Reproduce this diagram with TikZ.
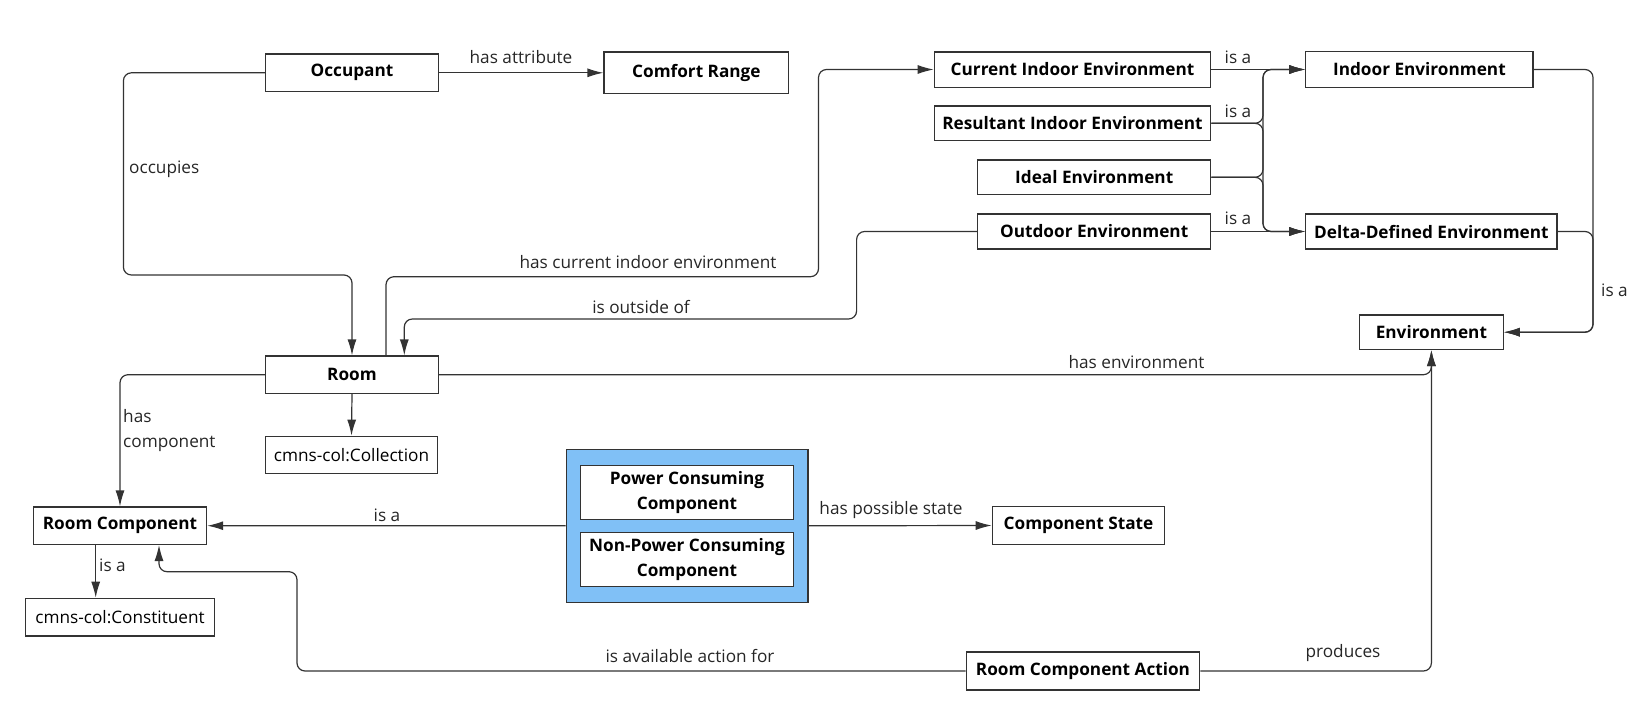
\documentclass[tikz,border=0pt]{standalone}
\usepackage{fontspec}
\setmainfont{Open Sans}
\usetikzlibrary{arrows.meta}
\definecolor{lc}{HTML}{333333}
\definecolor{bc}{HTML}{333333}
\definecolor{blu}{HTML}{80C0F6}
\tikzset{
  box/.style={draw=bc, line width=1.3pt, fill=white, inner sep=0pt, font=\fontsize{17.2}{25}\selectfont\bfseries, align=center},
  plainbox/.style={box, font=\fontsize{17.2}{25}\selectfont},
  conn/.style={draw=lc, line width=1.2pt, rounded corners=8pt, -{Latex[length=16pt,width=9pt]}},
  lbl/.style={font=\fontsize{17.2}{25}\selectfont, text=black!85, inner sep=0pt},
}
\begin{document}
\begin{tikzpicture}[x=1pt,y=-1pt]
\useasboundingbox (0,0) rectangle (1639,724);
% nodes
\node[box, minimum width=172.6pt, minimum height=37.7pt] (occ) at (352,72.8) {Occupant};
\node[box, minimum width=184.7pt, minimum height=41.7pt] (comfort) at (696.4,72.8) {Comfort Range};
\node[box, minimum width=276.3pt, minimum height=35.3pt] (cur) at (1072.5,69.5) {Current Indoor Environment};
\node[box, minimum width=227.2pt, minimum height=36pt] (indoor) at (1419.4,69.5) {Indoor Environment};
\node[box, minimum width=276.3pt, minimum height=34.7pt] (res) at (1072.5,123.3) {Resultant Indoor Environment};
\node[box, minimum width=233pt, minimum height=34.7pt] (ideal) at (1094.2,177.3) {Ideal Environment};
\node[box, minimum width=233pt, minimum height=35pt] (outdoor) at (1094.2,231.5) {Outdoor Environment};
\node[box, minimum width=251.2pt, minimum height=35pt] (delta) at (1431.4,231.5) {Delta-Defined Environment};
\node[box, minimum width=143.6pt, minimum height=34.3pt] (env) at (1431.4,332.2) {Environment};
\node[box, minimum width=172.6pt, minimum height=37.3pt] (room) at (352,374.7) {Room};
\node[plainbox, minimum width=171.5pt, minimum height=37.4pt] (coll) at (351.5,455) {cmns-col:Collection};
\node[box, minimum width=173.1pt, minimum height=37.3pt] (rc) at (120,525.7) {Room Component};
\node[plainbox, minimum width=188.8pt, minimum height=37.7pt] (const) at (120,617.2) {cmns-col:Constituent};
\node[draw=bc, line width=1.6pt, fill=blu, minimum width=241.6pt, minimum height=153pt, inner sep=0pt] (blue) at (687.2,525.8) {};
\node[box, minimum width=212.9pt, minimum height=53.6pt] (pcc) at (687,492.5) {Power Consuming\\Component};
\node[box, minimum width=212.9pt, minimum height=54pt] (npcc) at (687,559.3) {Non-Power Consuming\\Component};
\node[box, minimum width=172.3pt, minimum height=37.6pt] (cs) at (1078.5,525.5) {Component State};
\node[box, minimum width=233.4pt, minimum height=38pt] (rca) at (1083,671) {Room Component Action};

% connectors
\draw[conn] (occ.west) -- (123.4,72.8) -- (123.4,275) -- (352,275) -- (room.north);
\node[lbl, anchor=west] (loccupies) at (129,169) {occupies};

\draw[conn] (occ.east) -- (comfort.west);
\node[lbl] (lattr) at (521,57) {has attribute};

\draw[conn] ([xshift=34pt]room.north) -- (386,276.7) -- (818.5,276.7) -- (818.5,69.5) -- (cur.west);
\node[lbl] (lcur) at (648,262) {has current indoor environment};

\draw[conn] (outdoor.west) -- (856.6,231.5) -- (856.6,319) -- (404.3,319) -- ([xshift=52.3pt]room.north);
\node[lbl] (lout) at (641,307) {is outside of};

\draw[conn] (cur.east) -- (indoor.west);
\node[lbl] (lisa1) at (1238,57) {is a};
\draw[conn] (res.east) -- (1263,123.3) -- (1263,69.5) -- (indoor.west);
\draw[conn] (res.east) -- (1263,123.3) -- (1263,231.5) -- (delta.west);
\node[lbl] (lisa2) at (1238,111) {is a};
\draw[conn] (ideal.east) -- (1263,177.3) -- (1263,69.5) -- (indoor.west);
\draw[conn] (ideal.east) -- (1263,177.3) -- (1263,231.5) -- (delta.west);
\draw[conn] (outdoor.east) -- (delta.west);
\node[lbl] (lisa3) at (1238,218) {is a};

\draw[conn] (indoor.east) -- (1593,69.5) -- (1593,332.2) -- (env.east);
\draw[conn] (delta.east) -- (1593,231.5) -- (1593,332.2) -- (env.east);
\node[lbl, anchor=west] (lisa4) at (1601,290) {is a};

\draw[conn] (room.east) -- (1431.4,374.7) -- (env.south);
\node[lbl] (lhasenv) at (1136.5,362) {has environment};
\draw[conn] (rca.east) -- (1431.4,671) -- (env.south);
\node[lbl] (lprod) at (1343,653) {produces};

\draw[conn] (room.south) -- (coll.north);
\draw[conn] (room.west) -- (120,374.7) -- (rc.north);
\node[lbl, anchor=west, align=left] (lhc) at (123,431) {has\\component};

\draw[conn] (blue.west) -- (rc.east);
\node[lbl] (lisa5) at (387,515) {is a};
\draw[conn] (blue.east) -- (cs.west);
\node[lbl] (lhps) at (891,510) {has possible state};

\draw[conn] ([xshift=-24.3pt]rc.south) -- ([xshift=-24.3pt]const.north);
\node[lbl, anchor=west] (lisa6) at (99,565) {is a};

\draw[conn] (rca.west) -- (297,671) -- (297,571.7) -- (159,571.7) -- ([xshift=39pt]rc.south);
\node[lbl] (lavail) at (690,656) {is available action for};
\end{tikzpicture}
\end{document}
